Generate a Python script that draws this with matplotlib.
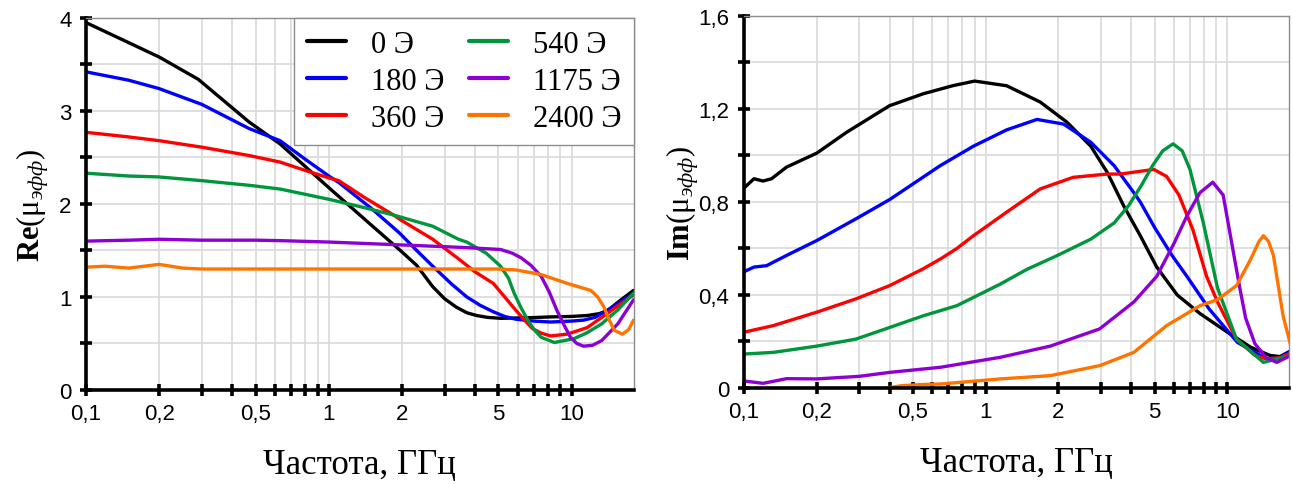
import matplotlib
matplotlib.use("Agg")
import matplotlib.pyplot as plt

plt.rcParams['font.family'] = ['Liberation Sans', 'DejaVu Sans']
plt.rcParams['mathtext.fontset'] = 'custom'
plt.rcParams['mathtext.rm'] = 'Liberation Serif'
plt.rcParams['mathtext.it'] = 'Liberation Serif:italic'
plt.rcParams['mathtext.bf'] = 'Liberation Serif:bold'

labels = ['0 Э', '180 Э', '360 Э', '540 Э', '1175 Э', '2400 Э']
colors = ['#000000', '#0000ff', '#ff0000', '#00963c', '#8c00d4', '#ff7400']

# Re(mu) -- left panel
re_f0 = [0.1, 0.2, 0.29, 0.47, 0.63, 1.0, 1.5, 1.95, 2.3, 2.68, 3.0, 3.35, 3.7, 4.06, 4.5,
         5.1, 6.5, 8.2, 10, 11.6, 13, 14.1, 16, 18]
re_v0 = [3.95, 3.58, 3.34, 2.88, 2.645, 2.175, 1.77, 1.51, 1.34, 1.11, 0.98, 0.89, 0.83, 0.80, 0.78,
         0.77, 0.775, 0.785, 0.79, 0.80, 0.82, 0.855, 0.97, 1.07]
re_f180 = [0.1, 0.15, 0.2, 0.3, 0.47, 0.63, 0.8, 1.0, 1.1, 1.5, 1.95, 2.3, 2.68, 3.2, 3.7, 4.2,
           4.76, 5.3, 5.9, 7, 8.2, 10, 11.2, 12.5, 14, 16, 18]
re_v180 = [3.42, 3.33, 3.24, 3.07, 2.81, 2.68, 2.48, 2.30, 2.23, 1.95, 1.69, 1.50, 1.33, 1.14, 1.0, 0.91,
           0.84, 0.79, 0.76, 0.74, 0.73, 0.74, 0.75, 0.78, 0.855, 0.95, 1.04]
re_f360 = [0.1, 0.15, 0.2, 0.3, 0.47, 0.63, 0.8, 1.0, 1.1, 1.4, 1.85, 2.0, 2.68, 3.42, 4.0, 4.76,
           5.3, 5.9, 6.4, 6.9, 7.5, 8.2, 9.6, 11.6, 14, 16, 18]
re_v360 = [2.77, 2.72, 2.68, 2.61, 2.52, 2.45, 2.36, 2.28, 2.25, 2.07, 1.88, 1.82, 1.62, 1.41, 1.27, 1.145,
           1.0, 0.855, 0.75, 0.66, 0.61, 0.58, 0.60, 0.67, 0.82, 0.93, 1.02]
re_f540 = [0.1, 0.15, 0.2, 0.3, 0.47, 0.63, 1.0, 1.4, 1.85, 2.68, 3.42, 3.7, 4.45, 5.1, 5.5, 5.8,
           6.2, 6.6, 7.0, 7.5, 8.5, 10.2, 11.5, 13.3, 15.5, 18]
re_v540 = [2.33, 2.30, 2.29, 2.25, 2.20, 2.16, 2.05, 1.96, 1.88, 1.76, 1.62, 1.59, 1.47, 1.33, 1.2, 1.04,
           0.88, 0.75, 0.65, 0.565, 0.51, 0.55, 0.61, 0.71, 0.86, 1.04]
re_f1175 = [0.1, 0.15, 0.2, 0.3, 0.5, 0.63, 1.0, 1.95, 3.0, 3.7, 5.1, 5.7, 6.2, 6.8, 7.5, 8.1,
            8.7, 9.3, 9.9, 10.5, 11.2, 12.2, 13.3, 15.5, 18]
re_v1175 = [1.60, 1.61, 1.62, 1.61, 1.61, 1.605, 1.59, 1.56, 1.54, 1.53, 1.51, 1.47, 1.42, 1.34, 1.22, 1.05,
            0.855, 0.70, 0.565, 0.50, 0.47, 0.48, 0.53, 0.71, 0.97]
re_f2400 = [0.1, 0.12, 0.15, 0.2, 0.25, 0.3, 0.5, 1.0, 2.0, 3.0, 5.0, 5.9, 7.5, 9.6, 12.0, 12.8,
            13.6, 14.3, 15, 16.2, 17.2, 18]
re_v2400 = [1.32, 1.33, 1.31, 1.35, 1.31, 1.30, 1.30, 1.30, 1.30, 1.30, 1.30, 1.29, 1.24, 1.145, 1.07, 1.0,
            0.89, 0.75, 0.64, 0.60, 0.65, 0.75]

# Im(mu) -- right panel
im_f0 = [0.1, 0.11, 0.12, 0.13, 0.15, 0.2, 0.266, 0.4, 0.55, 0.73, 0.9, 1.22, 1.68, 2.17, 2.72,
         3.18, 3.72, 4.36, 5.1, 6.2, 7.7, 10, 12.5, 15, 16.5, 18.3]
im_v0 = [0.86, 0.90, 0.89, 0.90, 0.95, 1.01, 1.10, 1.214, 1.265, 1.30, 1.32, 1.30, 1.23, 1.143, 1.04,
         0.928, 0.784, 0.655, 0.52, 0.40, 0.32, 0.24, 0.175, 0.14, 0.135, 0.16]
im_f180 = [0.1, 0.11, 0.124, 0.15, 0.2, 0.29, 0.4, 0.648, 0.89, 1.22, 1.63, 2.1, 2.72, 3.4, 4.1,
           4.36, 5.0, 5.9, 6.8, 8.4, 11, 14.5, 16.5, 18.3]
im_v180 = [0.50, 0.52, 0.526, 0.57, 0.634, 0.727, 0.81, 0.956, 1.04, 1.11, 1.155, 1.135, 1.057, 0.956, 0.84,
           0.80, 0.69, 0.57, 0.48, 0.34, 0.196, 0.125, 0.13, 0.16]
im_f360 = [0.1, 0.132, 0.2, 0.29, 0.4, 0.55, 0.65, 0.76, 0.89, 1.22, 1.68, 2.3, 3.18, 3.6, 4.96,
           5.6, 6.3, 7.2, 8.2, 9.1, 10.9, 13, 14.5, 16.5, 18.3]
im_v360 = [0.24, 0.268, 0.326, 0.383, 0.44, 0.512, 0.555, 0.60, 0.655, 0.756, 0.856, 0.906, 0.92, 0.92, 0.94,
           0.91, 0.83, 0.68, 0.48, 0.37, 0.21, 0.14, 0.125, 0.13, 0.15]
im_f540 = [0.1, 0.132, 0.2, 0.29, 0.4, 0.55, 0.76, 1.15, 1.48, 1.98, 2.72, 3.4, 3.9, 4.4, 4.9,
           5.4, 5.96, 6.5, 7.0, 7.95, 9.1, 10.9, 14.1, 18.3]
im_v540 = [0.146, 0.153, 0.18, 0.21, 0.26, 0.31, 0.354, 0.447, 0.51, 0.57, 0.64, 0.71, 0.784, 0.87, 0.956,
           1.02, 1.05, 1.02, 0.94, 0.71, 0.43, 0.21, 0.11, 0.14]
im_f1175 = [0.1, 0.12, 0.15, 0.2, 0.3, 0.4, 0.65, 1.15, 1.85, 2.96, 4.1, 5.1, 6.0, 6.8, 7.7,
            8.7, 9.6, 10.6, 11.3, 11.9, 13, 14.5, 16, 18.3]
im_v1175 = [0.03, 0.02, 0.04, 0.039, 0.05, 0.067, 0.089, 0.132, 0.18, 0.254, 0.37, 0.48, 0.62, 0.74, 0.84,
            0.885, 0.83, 0.58, 0.42, 0.30, 0.19, 0.13, 0.11, 0.14]
im_f2400 = [0.39, 0.45, 0.55, 0.65, 0.8, 1.15, 1.85, 2.96, 4.1, 5.6, 7.7, 9.1, 10.9, 12.5, 13.5,
            14.1, 14.8, 15.5, 16.0, 17, 18.3]
im_v2400 = [0.0, 0.01, 0.015, 0.017, 0.025, 0.039, 0.053, 0.096, 0.153, 0.268, 0.354, 0.38, 0.44, 0.555, 0.63,
            0.655, 0.63, 0.57, 0.48, 0.31, 0.18]

re_series = [(re_f0, re_v0), (re_f180, re_v180), (re_f360, re_v360),
             (re_f540, re_v540), (re_f1175, re_v1175), (re_f2400, re_v2400)]
im_series = [(im_f0, im_v0), (im_f180, im_v180), (im_f360, im_v360),
             (im_f540, im_v540), (im_f1175, im_v1175), (im_f2400, im_v2400)]

x_ticks = [0.1, 0.2, 0.3, 0.4, 0.5, 0.6, 0.7, 0.8, 0.9, 1, 2, 3, 4, 5, 6, 7, 8, 9, 10]
x_labels = {0.1: '0,1', 0.2: '0,2', 0.5: '0,5', 1: '1', 2: '2', 5: '5', 10: '10'}

serif = 'Liberation Serif'


def style_axes(ax, yticks, ylabels):
    ax.set_xscale('log')
    ax.set_xlim(0.1, 18)
    ax.set_xticks(x_ticks)
    ax.set_xticklabels([x_labels.get(t, '') for t in x_ticks])
    ax.minorticks_off()
    ax.set_yticks(yticks)
    ax.set_yticklabels(ylabels)
    ax.set_ylim(yticks[0], yticks[-1])
    ax.grid(True, color='#d9d9d9', lw=1.2)
    ax.set_axisbelow(True)
    for s in ['left', 'bottom']:
        ax.spines[s].set_linewidth(2.6)
        ax.spines[s].set_color('black')
    for s in ['top', 'right']:
        ax.spines[s].set_linewidth(1.0)
        ax.spines[s].set_color('#8c8c8c')
    ax.tick_params(axis='both', direction='inout', length=9, width=2.6,
                   labelsize=16, colors='black')
    ax.tick_params(axis='x', pad=5)
    ax.tick_params(axis='y', pad=6)
    ax.set_xlabel('Частота, ГГц', fontfamily=serif, fontsize=25, labelpad=17)


fig = plt.figure(figsize=(12.93, 4.85), dpi=100)
ax1 = fig.add_axes([0.0665, 0.194, 0.4235, 0.767])
ax2 = fig.add_axes([0.5754, 0.198, 0.4216, 0.767])

for (f, v), c, lab in zip(re_series, colors, labels):
    ax1.plot(f, v, color=c, lw=2.4, label=lab, solid_capstyle='round')
for (f, v), c in zip(im_series, colors):
    ax2.plot(f, v, color=c, lw=2.4, solid_capstyle='round')

y1 = [0, 0.5, 1, 1.5, 2, 2.5, 3, 3.5, 4]
style_axes(ax1, y1, ['0', '', '1', '', '2', '', '3', '', '4'])
y2 = [0, 0.2, 0.4, 0.6, 0.8, 1.0, 1.2, 1.4, 1.6]
style_axes(ax2, y2, ['0', '', '0,4', '', '0,8', '', '1,2', '', '1,6'])

ax1.set_ylabel(r'$\mathbf{Re}(\mathrm{\mu}_{эфф})$', fontsize=22, labelpad=6)
ax2.set_ylabel(r'$\mathbf{Im}(\mathrm{\mu}_{эфф})$', fontsize=22, labelpad=-2)

leg = ax1.legend(loc='upper right', ncol=2, prop={'family': serif, 'size': 22},
                 frameon=True, fancybox=False, edgecolor='#8c8c8c', framealpha=1,
                 handlelength=1.3, handletextpad=0.8, columnspacing=0.8,
                 labelspacing=0.26, borderaxespad=0.0, borderpad=0.4)
leg.get_frame().set_linewidth(1.0)
for h in leg.get_lines():
    h.set_linewidth(3.0)

fig.savefig('out.png', dpi=100)
